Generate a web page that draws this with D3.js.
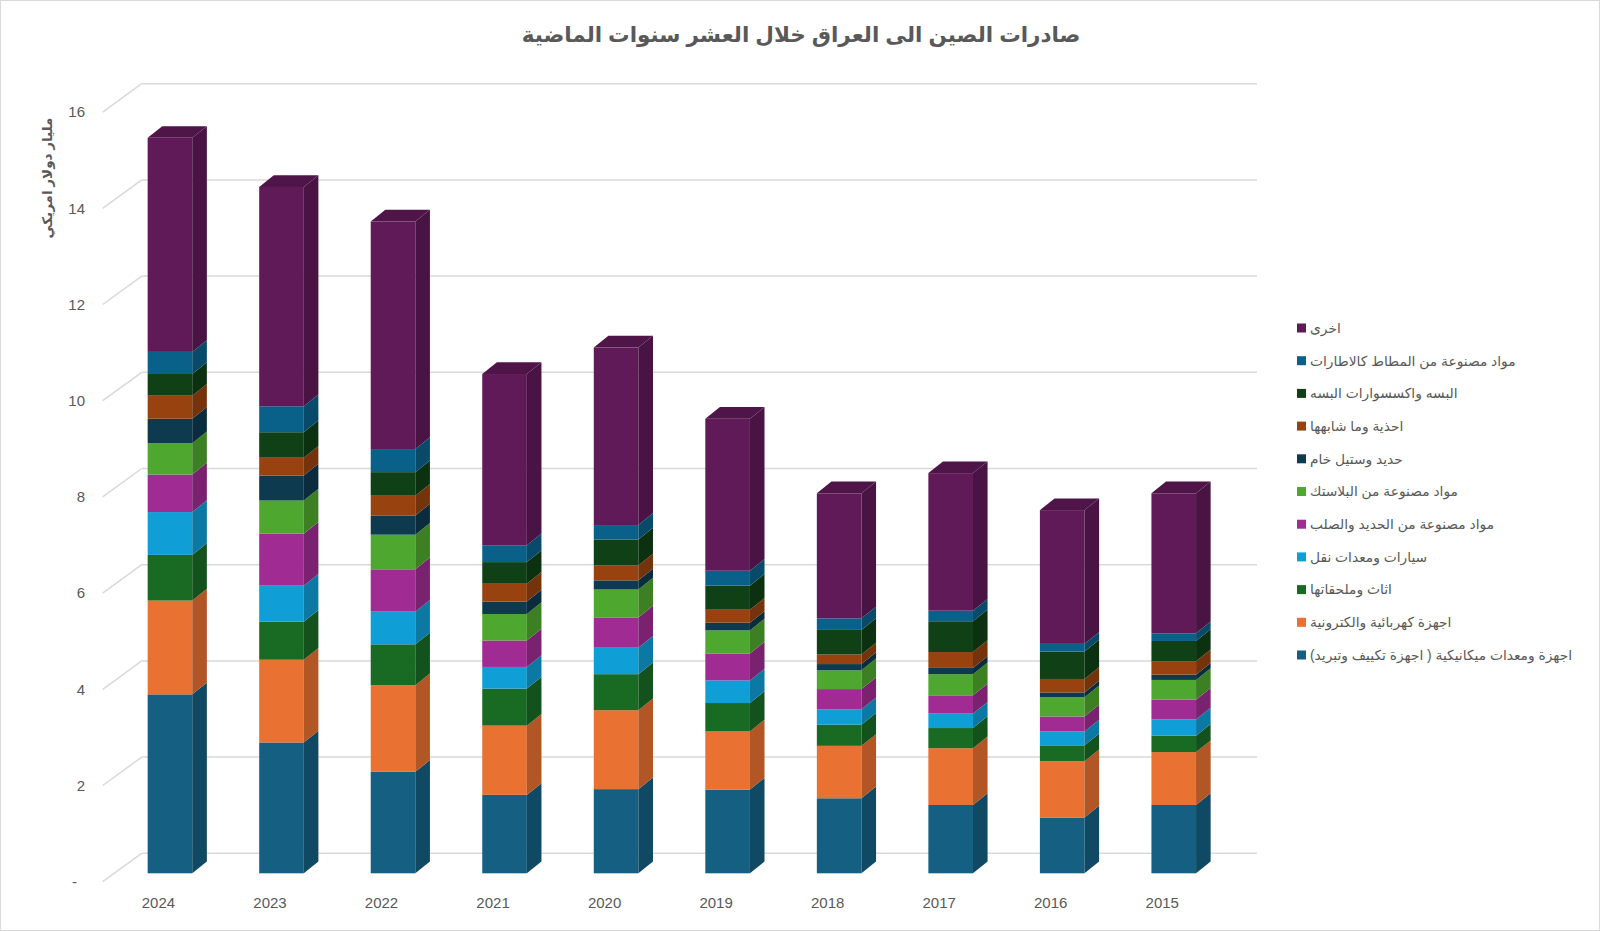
<!DOCTYPE html>
<html>
<head>
<meta charset="utf-8">
<script src="https://cdn.jsdelivr.net/npm/d3@7"></script>
<style>
	body { margin: 0; background: #fff; }
	svg { display: block; }
	text { font-family: "Liberation Sans", Arial, "DejaVu Sans", sans-serif; fill: #595959; }
</style>
</head>
<body>
<script>
// years, left to right as in the picture
var years = ['2024', '2023', '2022', '2021', '2020', '2019', '2018', '2017', '2016', '2015'];

// series values (billion USD), same order as years
var mech    = [3.72, 2.72, 2.11, 1.63, 1.75, 1.74, 1.56, 1.42, 1.16, 1.42];
var elec    = [1.95, 1.72, 1.80, 1.44, 1.64, 1.21, 1.09, 1.18, 1.17, 1.10];
var furn    = [0.95, 0.79, 0.85, 0.77, 0.75, 0.59, 0.44, 0.42, 0.33, 0.34];
var cars    = [0.89, 0.75, 0.68, 0.45, 0.55, 0.47, 0.32, 0.30, 0.29, 0.34];
var steel   = [0.78, 1.08, 0.88, 0.55, 0.63, 0.56, 0.42, 0.38, 0.31, 0.41];
var plastic = [0.65, 0.69, 0.72, 0.55, 0.58, 0.48, 0.39, 0.44, 0.40, 0.41];
var iron    = [0.51, 0.52, 0.40, 0.26, 0.19, 0.16, 0.13, 0.13, 0.10, 0.11];
var shoes   = [0.48, 0.37, 0.41, 0.37, 0.31, 0.27, 0.20, 0.33, 0.28, 0.28];
var clothes = [0.45, 0.53, 0.49, 0.45, 0.54, 0.50, 0.51, 0.64, 0.57, 0.42];
var rubber  = [0.46, 0.54, 0.48, 0.35, 0.30, 0.31, 0.24, 0.22, 0.16, 0.16];
var other   = [4.45, 4.56, 4.73, 3.56, 3.69, 3.16, 2.60, 2.86, 2.78, 2.91];

// series names, bottom of the stack first
var names = [
	'اجهزة ومعدات ميكانيكية ( اجهزة تكييف وتبريد)',
	'اجهزة كهربائية والكترونية',
	'اثاث وملحقاتها',
	'سيارات ومعدات نقل',
	'مواد مصنوعة من الحديد والصلب',
	'مواد مصنوعة من البلاستك',
	'حديد وستيل خام',
	'احذية وما شابهها',
	'البسه واكسسوارات البسه',
	'مواد مصنوعة من المطاط كالاطارات',
	'اخرى'
];
var series = [mech, elec, furn, cars, steel, plastic, iron, shoes, clothes, rubber, other];
var colors = ['#156082', '#e97132', '#196b24', '#0f9ed5', '#a02b93', '#4ea72e',
              '#0d3a4e', '#97420f', '#0f4016', '#09618a', '#601a58'];

var yTicks = [0, 2, 4, 6, 8, 10, 12, 14, 16];

var title = 'صادرات الصين الى العراق خلال العشر سنوات الماضية';
var yTitle = 'مليار دولار امريكي';

var W = 1600, H = 931;

// 3d look: wall depth and bar depth offsets
var wall = { dx: 39, dy: -28.4 },
	barFront = { dx: 11.5, dy: -8.4 },
	barDepth = { dx: 14.6, dy: -11.7 };

var svg = d3.select('body').append('svg')
	.attr('width', W)
	.attr('height', H);

svg.append('rect')
	.attr('x', 0.5).attr('y', 0.5)
	.attr('width', W - 1).attr('height', H - 1)
	.attr('fill', '#fff')
	.attr('stroke', '#d9d9d9');

var x = d3.scaleBand()
	.domain(years)
	.range([102.7, 1218])
	.paddingInner(0.6)
	.paddingOuter(0.3);

var y = d3.scaleLinear()
	.domain([0, 16])
	.range([881.7, 112.1]);

// gridlines on back wall + diagonals on the side wall
var grid = svg.append('g').attr('stroke', '#d9d9d9').attr('stroke-width', 1.5).attr('fill', 'none');
yTicks.forEach(function(t) {
	var y0 = y(t);
	grid.append('line')
		.attr('x1', x.range()[0]).attr('y1', y0)
		.attr('x2', x.range()[0] + wall.dx).attr('y2', y0 + wall.dy);
	grid.append('line')
		.attr('x1', x.range()[0] + wall.dx).attr('y1', y0 + wall.dy)
		.attr('x2', x.range()[1] + wall.dx).attr('y2', y0 + wall.dy);
});

// y axis tick labels
svg.append('g').selectAll('text')
	.data(yTicks)
	.enter().append('text')
		.attr('x', function(d) { return d === 0 ? 77 : 85; })
		.attr('y', function(d) { return y(d); })
		.attr('dy', '0.35em')
		.attr('text-anchor', 'end')
		.style('font-size', '15px')
		.text(function(d) { return d === 0 ? '-' : d; });

// stacked data
var table = years.map(function(yr, i) {
	var row = { year: yr };
	series.forEach(function(s, k) { row[k] = s[i]; });
	return row;
});
var keys = d3.range(series.length);
var stacked = d3.stack().keys(keys)(table);

var bw = x.bandwidth();

var bars = svg.append('g');
years.forEach(function(yr, i) {
	var bx = x(yr) + barFront.dx;
	var g = bars.append('g');
	stacked.forEach(function(layer, k) {
		var d = layer[i];
		var top = y(d[1]) + barFront.dy,
			bot = y(d[0]) + barFront.dy;
		var c = d3.color(colors[k]);
		// front face
		g.append('rect')
			.attr('x', bx).attr('y', top)
			.attr('width', bw).attr('height', bot - top)
			.attr('fill', c);
		// side face
		g.append('path')
			.attr('d', 'M' + [bx + bw, bot] + 'L' + [bx + bw, top] +
				'L' + [bx + bw + barDepth.dx, top + barDepth.dy] +
				'L' + [bx + bw + barDepth.dx, bot + barDepth.dy] + 'Z')
			.attr('fill', c.darker(0.75));
		// top face only for the last layer
		if (k === series.length - 1) {
			g.append('path')
				.attr('d', 'M' + [bx, top] + 'L' + [bx + bw, top] +
					'L' + [bx + bw + barDepth.dx, top + barDepth.dy] +
					'L' + [bx + barDepth.dx, top + barDepth.dy] + 'Z')
				.attr('fill', c.darker(0.55));
		}
	});
});

// category labels
svg.append('g').selectAll('text')
	.data(years)
	.enter().append('text')
		.attr('x', function(d) { return x(d) + bw / 2; })
		.attr('y', 903)
		.attr('dy', '0.35em')
		.attr('text-anchor', 'middle')
		.style('font-size', '15px')
		.text(function(d) { return d; });

// title
svg.append('text')
	.attr('x', 801)
	.attr('y', 34)
	.attr('dy', '0.35em')
	.attr('text-anchor', 'middle')
	.style('font-size', '21.5px')
	.style('font-weight', 'bold')
	.text(title);

// y axis title
svg.append('text')
	.attr('transform', 'translate(47,178)rotate(-90)')
	.attr('dy', '0.35em')
	.attr('text-anchor', 'middle')
	.style('font-size', '13.5px')
	.style('font-weight', 'bold')
	.text(yTitle);

// legend, top item is the top of the stack
var legend = svg.append('g');
var order = keys.slice().reverse();
order.forEach(function(k, j) {
	var ly = 328 + j * 32.7;
	legend.append('rect')
		.attr('x', 1297).attr('y', ly - 4.5)
		.attr('width', 9).attr('height', 9)
		.attr('fill', colors[k]);
	legend.append('text')
		.attr('x', 1310).attr('y', ly)
		.attr('dy', '0.35em')
		.attr('direction', 'rtl')
		.attr('text-anchor', 'end')
		.style('font-size', '13.8px')
		.text(names[k]);
});
</script>
</body>
</html>
